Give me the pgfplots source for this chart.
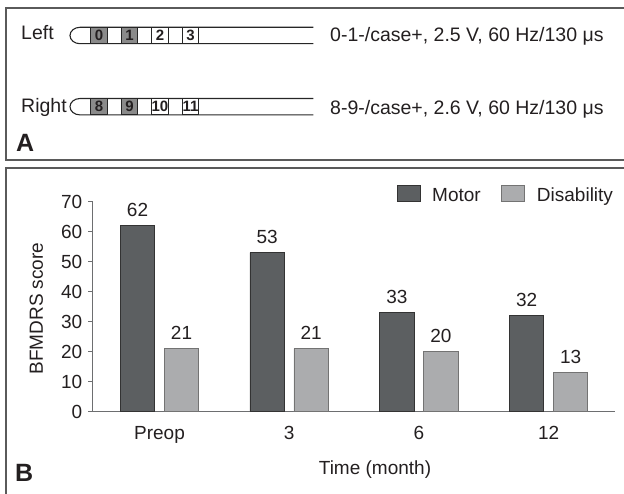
\documentclass[border=0pt]{standalone}
\usepackage{fontspec}
\setmainfont{Liberation Sans}
\usepackage{pgfplots}
\pgfplotsset{compat=1.18}
\definecolor{motor}{HTML}{5C5F61}
\definecolor{disab}{HTML}{ABACAE}
\definecolor{txt}{HTML}{231F20}
\definecolor{frame}{HTML}{5A5A5A}
\definecolor{axiscol}{HTML}{6D6E70}
\definecolor{contact}{HTML}{8A8A8A}
\newcommand\fs{\fontsize{19.5}{22}\selectfont}
\newcommand\fc{\fontsize{19}{22}\selectfont}
\newcommand\contact[4]{%
  \draw[black!85,line width=1.1pt,fill=#4] (#1,#2-8.2) rectangle (#1+16.6,#2+8.2);
  \node[font=\fontsize{15}{17}\selectfont\bfseries,text=txt,inner sep=0pt] at (#1+8.3,#2) {#3};
}
\newcommand\electrode[5]{%
  \draw[black!85,line width=1.1pt] (313.3,#1+8.2) -- (80,#1+8.2) arc (90:270:10 and 8.2) -- (313.3,#1-8.2);
  \contact{90.7}{#1}{#2}{contact}
  \contact{121.2}{#1}{#3}{contact}
  \contact{151.7}{#1}{#4}{white}
  \contact{182.2}{#1}{#5}{white}
}
\begin{document}
\begin{tikzpicture}
\useasboundingbox (0,0) rectangle (624pt,493pt);
\begin{scope}[x=1pt,y=1pt]
\draw[frame,line width=1.3pt] (626,485) -- (6,485) -- (6,333) -- (626,333);
\draw[frame,line width=1.3pt] (626,325) -- (6,325) -- (6,-3);
\node[anchor=base west,inner sep=0pt,text=txt,font=\fs] at (21,453) {Left};
\node[anchor=base west,inner sep=0pt,text=txt,font=\fs] at (21,380.7) {Right};
\node[anchor=base west,inner sep=0pt,text=txt,font=\fs] at (330,451.3) {0-1-/case+, 2.5 V, 60 Hz/130 μs};
\node[anchor=base west,inner sep=0pt,text=txt,font=\fs] at (330,378.7) {8-9-/case+, 2.6 V, 60 Hz/130 μs};
\node[anchor=base west,inner sep=0pt,text=txt,font=\fontsize{25}{28}\selectfont\bfseries] at (16,341) {A};
\node[anchor=base west,inner sep=0pt,text=txt,font=\fontsize{25}{28}\selectfont\bfseries] at (15,11.3) {B};
\electrode{457.5}{0}{1}{2}{3}
\electrode{386.3}{8}{9}{10}{11}
\end{scope}
\begin{axis}[
  at={(93pt,81.3pt)}, anchor=south west,
  scale only axis, width=522pt, height=210pt,
  xmin=-0.513, xmax=3.512, ymin=0, ymax=70,
  axis x line*=bottom, axis y line*=left,
  axis line style={axiscol, line width=1pt, -},
  ybar, bar width=34.5pt,
  xtick={0,1,2,3}, xticklabels={Preop,3,6,12},
  ytick={0,10,20,30,40,50,60,70},
  tick align=outside, major tick length=4.5pt,
  ytick style={axiscol, line width=1pt},
  xtick style={draw=none},
  tick label style={font=\fc, text=txt},
  /pgf/number format/assume math mode=true,
  yticklabel style={inner sep=6pt},
  xticklabel style={inner sep=0pt, text height=13.6pt, text depth=0pt, yshift=-9.7pt},
  xlabel={Time (month)}, ylabel={BFMDRS score},
  label style={font=\fc, text=txt},
  xlabel style={at={(axis description cs:0.5402,-0.2967)}, anchor=base},
  ylabel style={at={(axis description cs:-0.0958,0.4914)}, anchor=base},
  nodes near coords,
  every node near coord/.append style={font=\fc, text=txt, inner sep=0pt, yshift=9pt},
  legend columns=2,
  legend style={at={(0.5818,1.0795)}, anchor=north west, draw=none, fill=none,
    inner sep=0pt, outer sep=0pt, font=\fc, text=txt,
    nodes={inner sep=0pt, text height=13.6pt, text depth=0pt},
    /tikz/every odd column/.append style={column sep=11.7pt},
    /tikz/every even column/.append style={column sep=20.7pt}},
  legend cell align=left,
  every axis plot post/.append style={legend image code/.code={\draw[##1] (0pt,-6.8pt) rectangle (23pt,8.9pt);}},
  clip=false,
]
\addplot[fill=motor, draw=black!80, line width=0.8pt, bar shift=-22pt] coordinates {(0,62) (1,53) (2,33) (3,32)};
\addplot[fill=disab, draw=black!55, line width=0.8pt, bar shift=22pt] coordinates {(0,21) (1,21) (2,20) (3,13)};
\legend{Motor, Disability}
\end{axis}
\end{tikzpicture}
\end{document}
